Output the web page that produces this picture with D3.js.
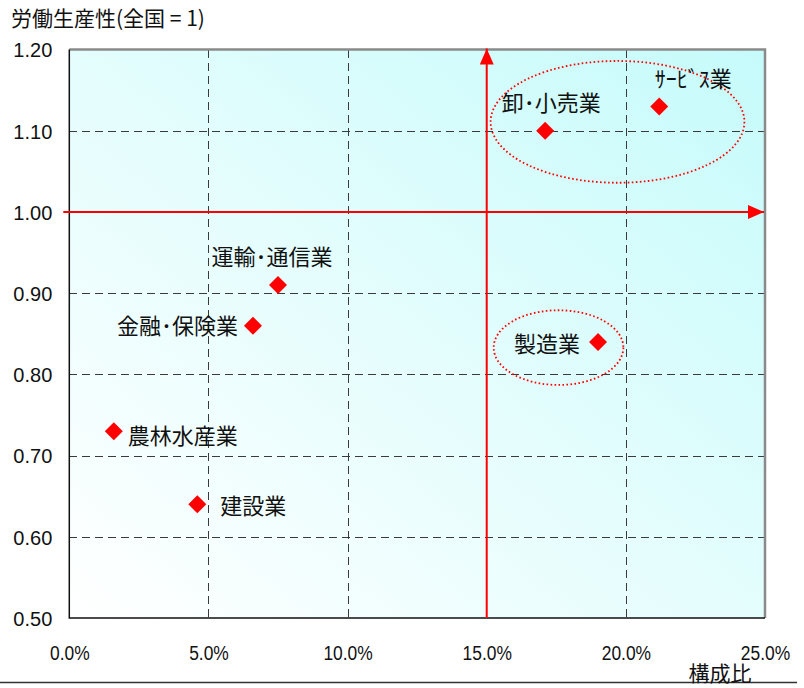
<!DOCTYPE html>
<html>
<head>
<meta charset="utf-8">
<script src="https://cdn.jsdelivr.net/npm/d3@7"></script>
<style>
  body { margin: 0; background: #fff; }
  .jp { font-family: "Noto Sans CJK JP", "Noto Sans", sans-serif; }
  .num { font-family: "Liberation Sans", Arial, sans-serif; }
</style>
</head>
<body>
<svg id="chart" width="804" height="688"></svg>
<script>
// Industries: share of employment (%) vs. labour productivity (national = 1)
const industries   = ["卸･小売業", "ｻｰﾋﾞｽ業", "運輸･通信業", "金融･保険業", "農林水産業", "建設業", "製造業"];
const shares       = [17.1, 21.2, 7.5, 6.6, 1.6, 4.6, 19.0];
const productivity = [1.10, 1.13, 0.91, 0.86, 0.73, 0.64, 0.84];

const xTicks = [0, 5, 10, 15, 20, 25];
const yTicks = [0.5, 0.6, 0.7, 0.8, 0.9, 1.0, 1.1, 1.2];
const yTitle = "労働生産性(全国 = 1)";
const xTitle = "構成比";

// reference cross (national average share / productivity)
const crossX = 15;
const crossY = 1.0;

// circled groups, in data units
const groupCx = [19.7, 17.58];
const groupCy = [1.111, 0.833];
const groupRx = [4.56, 2.33];
const groupRy = [0.075, 0.046];

// label placement relative to each marker: [anchor, dx, dy]
const labelLayout = [
  ["middle", 6, -28],
  ["middle", 34, -27],
  ["middle", -6, -28],
  ["end", -15, 0],
  ["start", 14, 5],
  ["start", 23, 2],
  ["end", -18, 2]
];

const svg = d3.select("#chart");
const L = 69.3, R = 765, T = 49.6, B = 618;

const x = d3.scaleLinear().domain([0, 25]).range([L, R]);
const y = d3.scaleLinear().domain([0.5, 1.2]).range([B, T]);

// background gradient: white at lower left to pale cyan at upper right
const defs = svg.append("defs");
const grad = defs.append("linearGradient")
  .attr("id", "bg").attr("x1", 0).attr("y1", 1).attr("x2", 1).attr("y2", 0);
grad.append("stop").attr("offset", 0).attr("stop-color", "#ffffff");
grad.append("stop").attr("offset", 0.5).attr("stop-color", "#e4fdfd");
grad.append("stop").attr("offset", 1).attr("stop-color", "#c6fbfb");

svg.append("rect")
  .attr("x", L).attr("y", T).attr("width", R - L).attr("height", B - T)
  .attr("fill", "url(#bg)");

// arrow marker
defs.append("marker")
  .attr("id", "arrowR").attr("viewBox", "0 0 16 14")
  .attr("refX", 16).attr("refY", 7)
  .attr("markerWidth", 16).attr("markerHeight", 14)
  .attr("markerUnits", "userSpaceOnUse").attr("orient", "auto")
  .append("path").attr("d", "M0,0L16,7L0,14Z").attr("fill", "#ff0000");

// grid
const grid = svg.append("g").attr("stroke", "#3a3a3a").attr("stroke-width", 1)
  .attr("stroke-dasharray", "8,5").attr("shape-rendering", "crispEdges");
grid.selectAll("line.v").data(xTicks.filter(d => d > 0 && d < 25 && d !== crossX))
  .join("line").attr("class", "v")
  .attr("x1", d => Math.round(x(d)) + 0.5).attr("x2", d => Math.round(x(d)) + 0.5)
  .attr("y1", T).attr("y2", B);
grid.selectAll("line.h").data(yTicks.filter(d => d > 0.5 && d < 1.2 && d !== crossY))
  .join("line").attr("class", "h")
  .attr("y1", d => Math.round(y(d)) + 0.5).attr("y2", d => Math.round(y(d)) + 0.5)
  .attr("x1", L).attr("x2", R);

// frame: light top/right, dark left/bottom
svg.append("path")
  .attr("d", `M${L},${T}H${R}V${B}`)
  .attr("fill", "none").attr("stroke", "#8a8a8a").attr("stroke-width", 2.5);
svg.append("path")
  .attr("d", `M${L},${T}V${B}H${R}`)
  .attr("fill", "none").attr("stroke", "#111").attr("stroke-width", 1.5);

// red reference cross
svg.append("line")
  .attr("x1", x(0) - 6).attr("x2", x(25) - 1)
  .attr("y1", y(crossY)).attr("y2", y(crossY))
  .attr("stroke", "#ff0000").attr("stroke-width", 2)
  .attr("marker-end", "url(#arrowR)");
svg.append("line")
  .attr("x1", x(crossX)).attr("x2", x(crossX))
  .attr("y1", y(0.5)).attr("y2", y(1.2) - 1)
  .attr("stroke", "#ff0000").attr("stroke-width", 2)
  .attr("marker-end", "url(#arrowR)");

// circled groups
svg.selectAll("ellipse.grp").data(groupCx)
  .join("ellipse").attr("class", "grp")
  .attr("cx", (d, i) => x(groupCx[i]))
  .attr("cy", (d, i) => y(groupCy[i]))
  .attr("rx", (d, i) => x(groupRx[i]) - x(0))
  .attr("ry", (d, i) => y(0.5) - y(0.5 + groupRy[i]))
  .attr("fill", "none").attr("stroke", "#ff0000")
  .attr("stroke-width", 1.8).attr("stroke-dasharray", "1.6,2.4");

// axes
const yAxis = svg.append("g")
  .attr("transform", `translate(${L - 17},0)`)
  .call(d3.axisLeft(y).tickValues(yTicks).tickFormat(d3.format(".2f")).tickSize(0).tickPadding(0));
yAxis.select(".domain").remove();
yAxis.selectAll("text")
  .attr("class", "num").attr("font-size", 20).attr("fill", "#111")
  .attr("dy", "0.36em");

const xAxis = svg.append("g")
  .attr("transform", `translate(0,${B + 35})`)
  .call(d3.axisBottom(x).tickValues(xTicks).tickFormat(d => d3.format(".1f")(d) + "%").tickSize(0).tickPadding(0));
xAxis.select(".domain").remove();
xAxis.selectAll("text")
  .attr("class", "num").attr("font-size", 20).attr("fill", "#111")
  .attr("dy", "0.36em").attr("y", 0)
  .attr("transform", "scale(0.87,1)");

svg.selectAll(".tick").attr("font-family", null);

// axis titles
svg.append("text").attr("class", "jp")
  .attr("x", 11).attr("y", 18).attr("dy", "0.36em")
  .attr("font-size", 21).attr("fill", "#111").text(yTitle);

// bottom rule
svg.append("line")
  .attr("x1", 0).attr("x2", 797).attr("y1", 682.5).attr("y2", 682.5)
  .attr("stroke", "#333").attr("stroke-width", 1.5);

svg.append("text").attr("class", "jp")
  .attr("x", 720).attr("y", 673).attr("dy", "0.36em")
  .attr("text-anchor", "middle")
  .attr("font-size", 21).attr("fill", "#111").text(xTitle);

// markers
const diamond = d3.symbol().type(d3.symbolSquare).size(162);
svg.selectAll("path.pt").data(industries)
  .join("path").attr("class", "pt")
  .attr("d", diamond)
  .attr("transform", (d, i) => `translate(${x(shares[i])},${y(productivity[i])}) rotate(45)`)
  .attr("fill", "#ff0000");

// labels
svg.selectAll("text.lbl").data(industries)
  .join("text").attr("class", "lbl jp")
  .attr("x", (d, i) => x(shares[i]) + labelLayout[i][1])
  .attr("y", (d, i) => y(productivity[i]) + labelLayout[i][2])
  .attr("dy", "0.36em")
  .attr("text-anchor", (d, i) => labelLayout[i][0])
  .attr("font-size", 22).attr("fill", "#111")
  .text(d => d);
</script>
</body>
</html>
